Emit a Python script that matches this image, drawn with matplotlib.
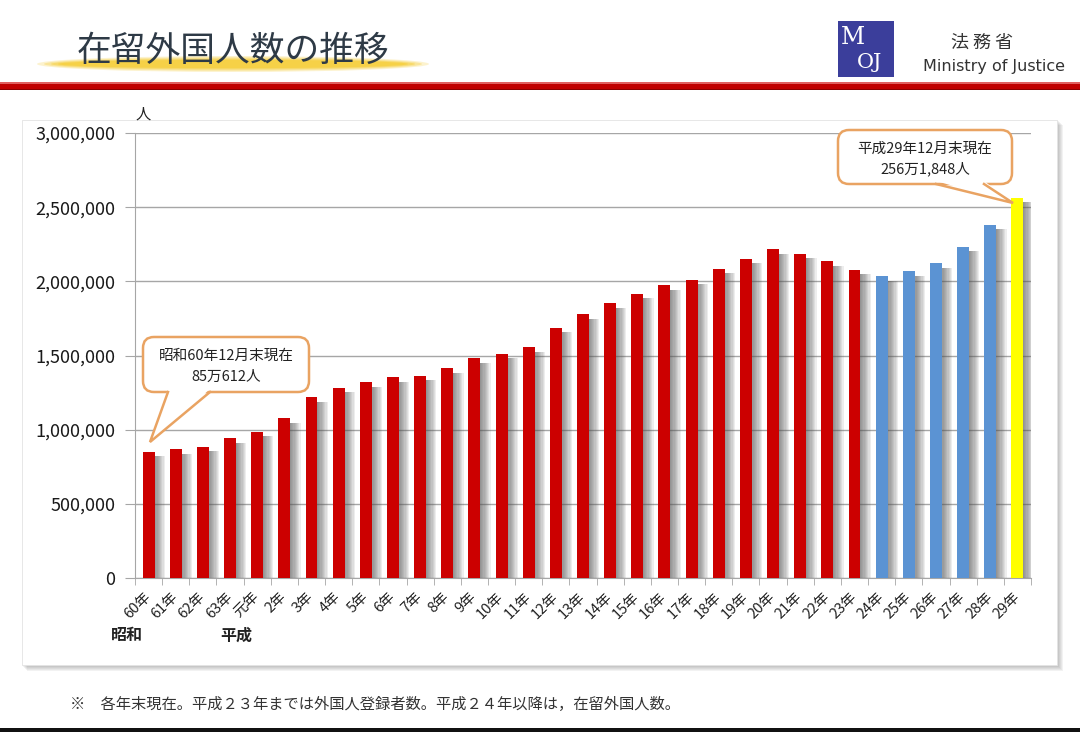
import numpy as np
import matplotlib
matplotlib.use("Agg")
import matplotlib.pyplot as plt
from matplotlib.patches import FancyBboxPatch, Polygon, Rectangle, Ellipse
from matplotlib.ticker import StrMethodFormatter

plt.rcParams['font.family'] = ['Noto Sans CJK JP', 'DejaVu Sans']

# ---- data (year-end foreign residents, 昭和60年 .. 平成29年) ----
year_labels = ["60年", "61年", "62年", "63年", "元年", "2年", "3年", "4年", "5年",
               "6年", "7年", "8年", "9年", "10年", "11年", "12年", "13年", "14年",
               "15年", "16年", "17年", "18年", "19年", "20年", "21年", "22年",
               "23年", "24年", "25年", "26年", "27年", "28年", "29年"]
residents = [850612, 867237, 884025, 941005, 984455, 1075317, 1218891, 1281644,
             1320748, 1354011, 1362371, 1415136, 1482707, 1512116, 1556113,
             1686444, 1778462, 1851758, 1915030, 1973747, 2011555, 2084919,
             2152973, 2217426, 2186121, 2134151, 2078508, 2033656, 2066445,
             2121831, 2232189, 2382822, 2561848]
# 0 = 外国人登録者数 (~平成23), 1 = 在留外国人数 (平成24~), 2 = latest
series_kind = [0] * 27 + [1] * 5 + [2]
era_labels = ["昭和", "平成"]
first_note = ["昭和60年12月末現在", "85万612人"]
last_note = ["平成29年12月末現在", "256万1,848人"]
footnote = "※　各年末現在。平成２３年までは外国人登録者数。平成２４年以降は，在留外国人数。"

RED, BLUE, YELLOW = "#CC0000", "#5B93D3", "#FFFF00"
ORANGE = "#E9A362"
GRID = "#A6A6A6"
kind_color = {0: RED, 1: BLUE, 2: YELLOW}

W, H = 1080, 732
fig = plt.figure(figsize=(W / 100, H / 100), dpi=100)

# background layer in pixel coords (y down)
bg = fig.add_axes([0, 0, 1, 1], zorder=0)
bg.set_xlim(0, W); bg.set_ylim(H, 0); bg.axis("off")

# title with yellow brush stroke
for k, a in enumerate([0.25, 0.35, 0.5, 0.8]):
    bg.add_patch(Ellipse((233, 64), 392 - k * 14, 16 - k * 2.5,
                         fc="#F6CF3E", ec="none", alpha=a))
bg.text(233, 51, "在留外国人数の推移", fontsize=25, color="#2E3A46",
        ha="center", va="center")

# ministry logo
bg.add_patch(Rectangle((838, 21), 56, 56, fc="#3B3E9B", ec="none"))
bg.text(853, 37, "M", fontsize=17, color="white", family="DejaVu Serif",
        ha="center", va="center")
bg.text(870, 63, "OJ", fontsize=15, color="white", family="DejaVu Serif",
        ha="center", va="center")
bg.text(982, 43, "法 務 省", fontsize=13, color="#333333", ha="center", va="center")
bg.text(994, 66, "Ministry of Justice", fontsize=11.5, color="#333333",
        family="DejaVu Sans", ha="center", va="center")

# red rule
bg.add_patch(Rectangle((0, 82), W, 8, fc="#C00000", ec="none"))
bg.add_patch(Rectangle((0, 82), W, 1.5, fc="#E06060", ec="none"))
bg.add_patch(Rectangle((0, 88.5), W, 1.5, fc="#8A0000", ec="none"))

# chart panel with soft shadow
for k in range(6):
    bg.add_patch(Rectangle((22 + k, 120 + k), 1036, 546, fc="#505050",
                           ec="none", alpha=0.07))
bg.add_patch(Rectangle((22, 120), 1035, 545, fc="white", ec="#E4E4E4", lw=0.6))

bg.text(143, 114, "人", fontsize=11, color="#222222", ha="center", va="center")
bg.text(127, 635, era_labels[0], fontsize=11.5, weight="bold", color="#222222",
        ha="center", va="center")
bg.text(236, 636, era_labels[1], fontsize=11.5, weight="bold", color="#222222",
        ha="center", va="center")

bg.text(70, 704, footnote, fontsize=11, color="#333333", ha="left", va="center")
bg.add_patch(Rectangle((0, 728), W, 4, fc="#111111", ec="none"))

# ---- bar chart ----
ax = fig.add_axes([135 / W, (H - 578) / H, 896 / W, 445 / H], zorder=1)
ax.set_facecolor("none")
x = np.arange(len(residents))
vals = np.array(residents)
bw = 0.44

# blurred shadow to the lower right of every bar
for k in range(9):
    ax.bar(x - bw / 2 + 0.12, vals - 30000, width=bw - 0.1 + k * 0.045,
           align="edge", color="#555555", alpha=0.1, lw=0, zorder=2)
ax.bar(x, vals, width=bw, color=[kind_color[s] for s in series_kind],
       lw=0, zorder=3)

ax.set_xlim(-0.5, len(residents) - 0.5)
ax.set_ylim(0, 3000000)
ax.set_yticks(np.arange(0, 3000001, 500000))
ax.yaxis.set_major_formatter(StrMethodFormatter("{x:,.0f}"))
ax.yaxis.grid(True, color=GRID, lw=1)
ax.set_axisbelow(True)
for s in ("top", "right"):
    ax.spines[s].set_visible(False)
for s in ("left", "bottom"):
    ax.spines[s].set_color(GRID)

ax.set_xticks(x, labels=year_labels, rotation=45, ha="right", va="center",
              rotation_mode="anchor", fontsize=10.5)
ax.set_xticks(np.arange(-0.5, len(residents), 1), minor=True)
ax.tick_params(axis="x", which="major", length=0, pad=12, labelcolor="#222222")
ax.tick_params(axis="x", which="minor", length=5, color=GRID)
ax.tick_params(axis="y", length=7, color=GRID, pad=7, labelsize=13,
               labelcolor="#1A1A1A")

# ---- callouts ----
ov = fig.add_axes([0, 0, 1, 1], zorder=3)
ov.set_xlim(0, W); ov.set_ylim(H, 0); ov.axis("off")
ov.set_facecolor("none")


def callout(x0, y0, x1, y1, base_a, base_b, tip, lines):
    ov.add_patch(FancyBboxPatch((x0, y0), x1 - x0, y1 - y0,
                                boxstyle="round,pad=0,rounding_size=11",
                                fc="white", ec=ORANGE, lw=1.8))
    ov.add_patch(Polygon([(base_a, y1 - 3), tip, (base_b, y1 - 3)],
                         closed=True, fc="white", ec="none"))
    ov.plot([base_a, tip[0], base_b], [y1, tip[1], y1], color=ORANGE, lw=1.8,
            solid_joinstyle="miter")
    cx = (x0 + x1) / 2
    ov.text(cx, y0 + (y1 - y0) * 0.34, lines[0], fontsize=10.5, color="#222222",
            ha="center", va="center")
    ov.text(cx, y0 + (y1 - y0) * 0.72, lines[1], fontsize=10.5, color="#222222",
            ha="center", va="center")


callout(143, 337, 309, 392, 168, 210, (150, 442), first_note)
callout(838, 130, 1012, 184, 936, 984, (1013, 203), last_note)

fig.savefig("out.png", dpi=100)
